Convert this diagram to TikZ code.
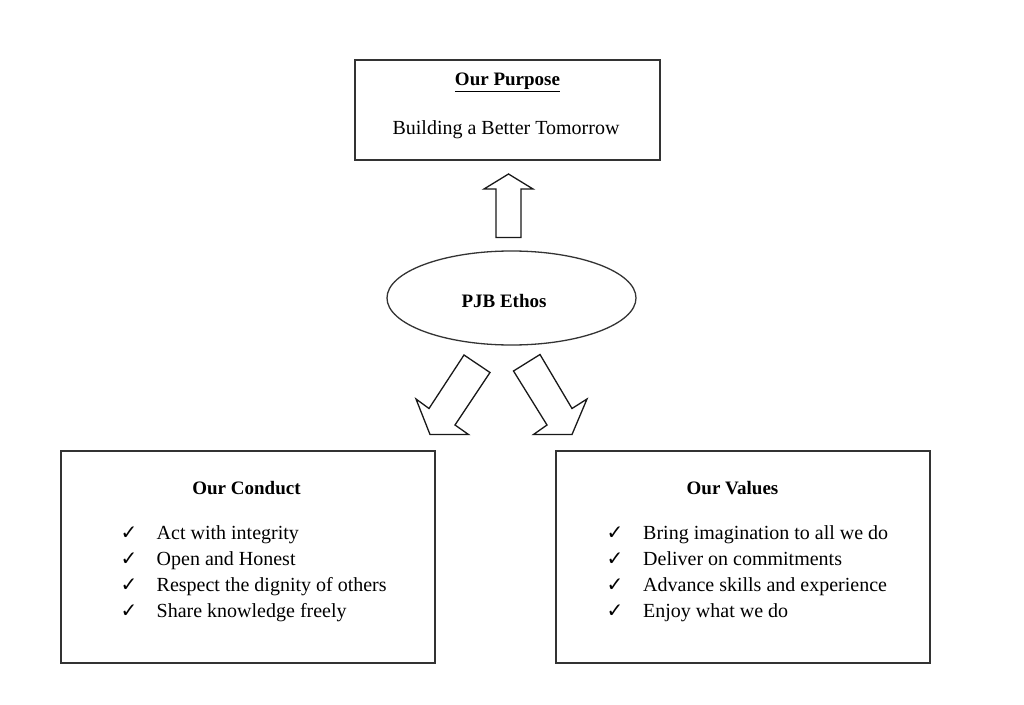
\documentclass[tikz,border=0pt]{standalone}
\usepackage{fontspec}
\setmainfont{Liberation Serif}
\newfontfamily\symfont{DejaVu Sans}
\usetikzlibrary{shapes.geometric}
\tikzset{
  frame/.style={draw=black!80, line width=1.3bp},
  boxnode/.style={frame, rectangle, inner sep=0pt},
  txt/.style={inner sep=0pt, font=\fontsize{20bp}{24bp}\selectfont},
  ttl/.style={inner sep=0pt, anchor=base, font=\fontsize{19bp}{23bp}\selectfont\bfseries},
  item/.style={txt, anchor=base west},
  tick/.style={inner sep=0pt, anchor=base, font=\fontsize{20bp}{24bp}\symfont\bfseries},
  blockarrow/.style={draw=black!90, line width=1.3bp, fill=white, line join=miter}
}
\begin{document}
\begin{tikzpicture}[x=1bp,y=-1bp]
\useasboundingbox (0,0) rectangle (1024,705);
% boxes
\node[boxnode, minimum width=305bp, minimum height=100bp] (purpose) at (507.5,110) {};
\node[boxnode, minimum width=374bp, minimum height=212bp] (conduct) at (248,557) {};
\node[boxnode, minimum width=374bp, minimum height=212bp] (values) at (743,557) {};
\node[frame, ellipse, minimum width=249bp, minimum height=94bp, inner sep=0pt] (ethos) at (511.5,298) {};
% texts
\node[ttl] (purposettl) at (507.5,86) {\underline{Our Purpose}};
\node[txt, anchor=base] (purposetxt) at (506,135) {Building a Better Tomorrow};
\node[ttl] (ethostxt) at (504,307) {PJB Ethos};
\node[ttl] (conductttl) at (246.5,494) {Our Conduct};
\node[ttl] (valuesttl) at (732.5,494) {Our Values};
% conduct list
\foreach \t [count=\i] in {Act with integrity, Open and Honest, Respect the dignity of others, Share knowledge freely}{
  \node[tick] (ct\i) at (129,{539+26.3*(\i-1)}) {✓};
  \node[item] (ci\i) at (156.5,{539+26.3*(\i-1)}) {\t};
}
\foreach \t [count=\i] in {Bring imagination to all we do, Deliver on commitments, Advance skills and experience, Enjoy what we do}{
  \node[tick] (vt\i) at (615,{539+26.3*(\i-1)}) {✓};
  \node[item] (vi\i) at (643,{539+26.3*(\i-1)}) {\t};
}
% block arrows
\draw[blockarrow] (496,237.5) -- (496,189) -- (484,189) -- (508.5,174) -- (533,189) -- (521,189) -- (521,237.5) -- cycle;
\draw[blockarrow] (464,355) -- (490,372.5) -- (455,425) -- (468.5,434.5) -- (430,434.5) -- (416,399) -- (429,408.5) -- cycle;
\draw[blockarrow] (540,354.5) -- (513.5,371) -- (547,425) -- (533.5,434.5) -- (572,434.5) -- (587,399) -- (572,408.5) -- cycle;
\end{tikzpicture}
\end{document}
